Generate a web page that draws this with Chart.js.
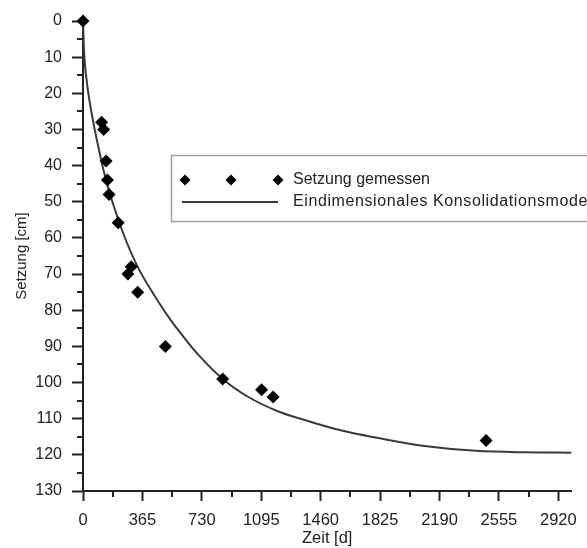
<!DOCTYPE html>
<html><head><meta charset="utf-8">
<script src="https://cdn.jsdelivr.net/npm/chart.js@4/dist/chart.umd.min.js"></script>
<style>html,body{margin:0;padding:0;background:#fff}#wrap{width:587px;height:548px;position:relative;overflow:hidden}</style>
</head><body><div id="wrap"><canvas id="c" width="587" height="548"></canvas></div>
<script>
// Measured settlement
const zeitGemessen    = [0, 114, 127, 142, 150, 160, 216, 276, 296, 336, 506, 858, 1097, 1168, 2476];
const setzungGemessen = [0, 28,  30,  38.7, 44, 48,  55.8, 70, 68,  75,  90,  99,  102,  104,  116];
// Model curve
const modelZeit    = [0, 6, 24, 55, 95, 130, 184, 245, 336, 458, 540, 620, 712, 858, 1016, 1200, 1320, 1563, 1867, 2111, 2415, 2719, 3000];
const modelSetzung = [0, 8, 17, 26, 35, 42, 50.5, 58.5, 68, 77.3, 82.8, 87.5, 92.5, 99, 104, 108, 109.8, 113, 115.8, 117.6, 118.9, 119.3, 119.4];
// Ticks
const xTickValues  = [0, 365, 730, 1095, 1460, 1825, 2190, 2555, 2920];
const xMinorValues = [182.5, 547.5, 912.5, 1277.5, 1642.5, 2007.5, 2372.5, 2737.5];
const yTickValues  = [0, 10, 20, 30, 40, 50, 60, 70, 80, 90, 100, 110, 120, 130];
const yMinorValues = [5, 15, 25, 35, 45, 55, 65, 75, 85, 95, 105, 115, 125];
const legendLabels = ['Setzung gemessen', 'Eindimensionales Konsolidationsmodell'];
const xTitle = 'Zeit [d]';
const yTitle = 'Setzung [cm]';

const FONT = '"Liberation Sans", Arial, sans-serif';
const INK = '#222';

const minorTicks = {
  id: 'minorTicks',
  afterDraw(chart) {
    const ctx = chart.ctx, xs = chart.scales.x, ys = chart.scales.y, a = chart.chartArea;
    ctx.save();
    ctx.strokeStyle = INK; ctx.lineWidth = 2;
    ctx.beginPath();
    xMinorValues.forEach(v => { const p = Math.round(xs.getPixelForValue(v)); ctx.moveTo(p, a.bottom); ctx.lineTo(p, a.bottom + 6); });
    yMinorValues.forEach(v => { const p = Math.round(ys.getPixelForValue(v)); ctx.moveTo(a.left, p); ctx.lineTo(a.left - 6, p); });
    ctx.stroke();
    ctx.restore();
  }
};

function diamond(ctx, x, y, r) {
  ctx.beginPath();
  ctx.moveTo(x, y - r); ctx.lineTo(x + r, y); ctx.lineTo(x, y + r); ctx.lineTo(x - r, y); ctx.closePath();
  ctx.fill();
}

const legendBox = {
  id: 'legendBox',
  afterDraw(chart) {
    const ctx = chart.ctx;
    ctx.save();
    ctx.fillStyle = '#fff';
    ctx.fillRect(171.5, 155.5, 500, 66);
    ctx.strokeStyle = '#a0a0a0'; ctx.lineWidth = 1.5;
    ctx.strokeRect(171.5, 155.5, 500, 66);
    ctx.fillStyle = '#000';
    [185, 231, 278].forEach(x => diamond(ctx, x, 180, 5.5));
    ctx.strokeStyle = '#3a3a3a'; ctx.lineWidth = 2;
    ctx.beginPath(); ctx.moveTo(182, 202); ctx.lineTo(278, 202); ctx.stroke();
    ctx.fillStyle = INK;
    ctx.font = '16px ' + FONT;
    ctx.textBaseline = 'middle'; ctx.textAlign = 'left';
    ctx.fillText(legendLabels[0], 293, 180);
    if ('letterSpacing' in ctx) ctx.letterSpacing = '0.6px';
    ctx.fillText(legendLabels[1], 293, 202);
    ctx.restore();
  }
};

new Chart(document.getElementById('c'), {
  type: 'scatter',
  data: {
    datasets: [
      {
        label: legendLabels[0],
        data: zeitGemessen.map((t, i) => ({x: t, y: setzungGemessen[i]})),
        pointStyle: 'rectRot', pointRadius: 6.5, pointHoverRadius: 6.5,
        backgroundColor: '#000', borderColor: '#000', borderWidth: 0,
        showLine: false, clip: false, order: 0
      },
      {
        label: legendLabels[1],
        data: modelZeit.map((t, i) => ({x: t, y: modelSetzung[i]})),
        showLine: true, pointRadius: 0, borderColor: '#3a3a3a', borderWidth: 2,
        cubicInterpolationMode: 'monotone', fill: false, clip: false, order: 1
      }
    ]
  },
  options: {
    responsive: false, animation: false, devicePixelRatio: 1,
    layout: {padding: {top: 21, right: 11, left: 0, bottom: 0}},
    plugins: {legend: {display: false}, tooltip: {enabled: false}},
    scales: {
      x: {
        type: 'linear', min: 0, max: 3000,
        afterBuildTicks: s => { s.ticks = xTickValues.map(v => ({value: v})); },
        afterFit: s => { s.height = 57; },
        grid: {drawOnChartArea: false, drawTicks: true, tickLength: 10, tickWidth: 2, tickColor: INK, color: INK},
        border: {display: true, color: INK, width: 2},
        ticks: {padding: 10, color: INK, font: {family: FONT, size: 16.5}, maxRotation: 0, autoSkip: false, callback: v => String(v)},
        title: {display: true, text: xTitle, color: INK, font: {family: FONT, size: 16.5}, padding: {top: 0, bottom: 0}}
      },
      y: {
        type: 'linear', reverse: true, min: 0, max: 130,
        afterBuildTicks: s => { s.ticks = yTickValues.map(v => ({value: v})); },
        afterFit: s => { s.width = 83; },
        grid: {drawOnChartArea: false, drawTicks: true, tickLength: 11, tickWidth: 2, tickColor: INK, color: INK},
        border: {display: true, color: INK, width: 2},
        ticks: {padding: 10, color: INK, font: {family: FONT, size: 16}, autoSkip: false, callback: v => String(v)},
        title: {display: true, text: yTitle, color: INK, font: {family: FONT, size: 15}, padding: {top: 13, bottom: 0}}
      }
    }
  },
  plugins: [minorTicks, legendBox]
});
</script>
</body></html>
